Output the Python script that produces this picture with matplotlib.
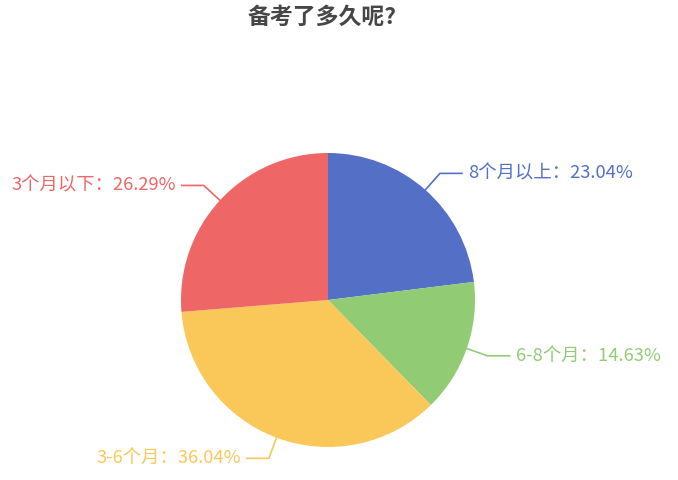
import numpy as np
import matplotlib
matplotlib.use("Agg")
import matplotlib.pyplot as plt

plt.rcParams['font.family'] = ['Noto Sans CJK SC', 'DejaVu Sans']

# data
labels = ['8个月以上', '6-8个月', '3-6个月', '3个月以下']
values = [23.04, 14.63, 36.04, 26.29]
colors = ['#5470c6', '#91cc75', '#fac858', '#ee6666']
title = '备考了多久呢?'

W, H = 678, 480
fig = plt.figure(figsize=(W / 100, H / 100), dpi=100)
ax = fig.add_axes([0, 0, 1, 1])

cx, cy, r = 328, H - 300, 147
ax.pie(values, colors=colors, startangle=90, counterclock=False,
       center=(cx, cy), radius=r, frame=True,
       wedgeprops=dict(linewidth=0))
ax.set_xlim(0, W)
ax.set_ylim(0, H)
ax.set_aspect('equal')
ax.axis('off')

# labels with leader lines
total = sum(values)
start = 0
for lab, v, c in zip(labels, values, colors):
    mid = (start + v / 2) / total * 2 * np.pi  # clockwise from top
    start += v
    dx, dy = np.sin(mid), np.cos(mid)
    x0, y0 = cx + r * dx, cy + r * dy
    x1, y1 = cx + (r + 22) * dx, cy + (r + 22) * dy
    side = 1 if dx >= 0 else -1
    x2 = x1 + side * 22
    ax.plot([x0, x1, x2], [y0, y1, y1], color=c, lw=1.2, solid_joinstyle='miter')
    ax.text(x2 + side * 6, y1, f'{lab}：{v:.2f}%', color=c, fontsize=13.2,
            ha='left' if side > 0 else 'right', va='center')

ax.text(322, H - 17, title, ha='center', va='center', fontsize=16.5,
        fontweight='bold', color='#464646')

fig.savefig('out.png', dpi=100)
